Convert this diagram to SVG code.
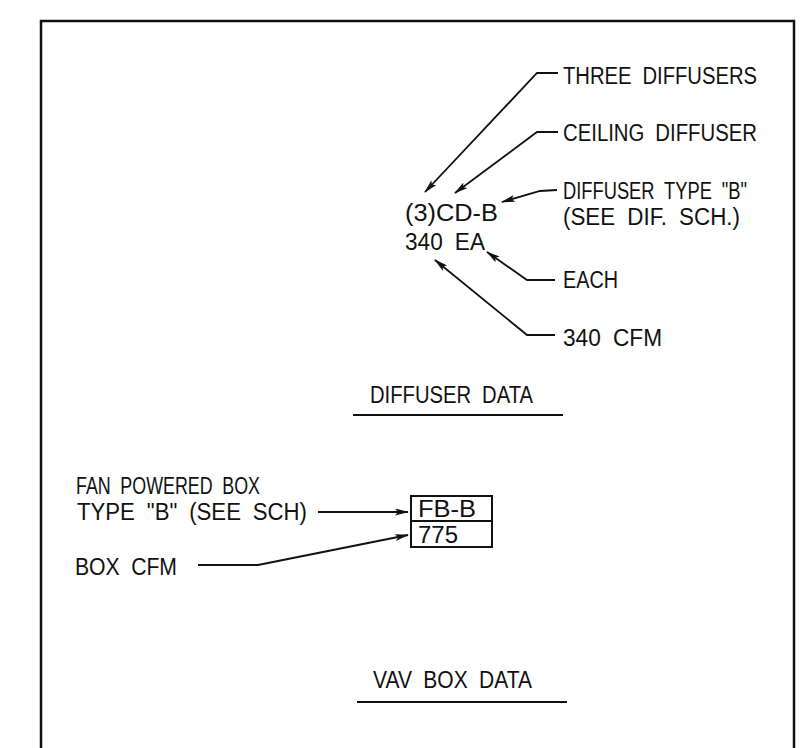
<svg xmlns="http://www.w3.org/2000/svg" width="802" height="748" viewBox="0 0 802 748">
<defs>
<marker id="ah" markerUnits="userSpaceOnUse" markerWidth="14" markerHeight="8" refX="13" refY="3.5" orient="auto">
<path d="M0,0 L14,3.5 L0,7 L3,3.5 z" fill="#111"/>
</marker>
<style>
text{font-family:"Liberation Sans","DejaVu Sans",sans-serif;font-size:23px;fill:#111;word-spacing:6px;}
.ld{fill:none;stroke:#111;stroke-width:1.8;marker-end:url(#ah);}
.ul{fill:none;stroke:#111;stroke-width:2.2;}
</style>
</defs>
<rect width="802" height="748" fill="#fff"/>
<g id="frame"><path d="M41,748 V21 H794 V748" fill="none" stroke="#111" stroke-width="2.5"/></g>

<g id="tag-diffuser">
<text x="405" y="221" textLength="93" lengthAdjust="spacingAndGlyphs">(3)CD-B</text>
<text x="405" y="250" textLength="80" lengthAdjust="spacingAndGlyphs">340 EA</text>
</g>
<g id="lbl-three"><text x="563" y="84" textLength="194" lengthAdjust="spacingAndGlyphs">THREE DIFFUSERS</text></g>
<g id="lbl-ceiling"><text x="563" y="141" textLength="194" lengthAdjust="spacingAndGlyphs">CEILING DIFFUSER</text></g>
<g id="lbl-type"><text x="563" y="199" textLength="184" lengthAdjust="spacingAndGlyphs">DIFFUSER TYPE "B"</text>
<text x="563" y="225" textLength="177" lengthAdjust="spacingAndGlyphs">(SEE DIF. SCH.)</text></g>
<g id="lbl-each"><text x="563" y="288" textLength="55" lengthAdjust="spacingAndGlyphs">EACH</text></g>
<g id="lbl-cfm"><text x="563" y="346" textLength="99" lengthAdjust="spacingAndGlyphs">340 CFM</text></g>
<g id="title-diffuser"><text x="370" y="403" textLength="163" lengthAdjust="spacingAndGlyphs">DIFFUSER DATA</text>
<line class="ul" x1="353" y1="415" x2="563" y2="415"/></g>

<g id="lbl-fpb"><text x="76" y="494" textLength="184" lengthAdjust="spacingAndGlyphs">FAN POWERED BOX</text>
<text x="77" y="520" textLength="230" lengthAdjust="spacingAndGlyphs">TYPE "B" (SEE SCH)</text></g>
<g id="lbl-boxcfm"><text x="75" y="575" textLength="102" lengthAdjust="spacingAndGlyphs">BOX CFM</text></g>
<g id="vav-box">
<rect x="411" y="496" width="81" height="51" fill="none" stroke="#111" stroke-width="2"/>
<line x1="411" y1="521" x2="492" y2="521" stroke="#111" stroke-width="1.8"/>
<text x="418" y="517" textLength="58" lengthAdjust="spacingAndGlyphs">FB-B</text>
<text x="418" y="543" textLength="40" lengthAdjust="spacingAndGlyphs">775</text>
</g>
<g id="title-vav"><text x="373" y="688" textLength="159" lengthAdjust="spacingAndGlyphs">VAV BOX DATA</text>
<line class="ul" x1="357" y1="702" x2="567" y2="702"/></g>

<g id="connectors">
<path class="ld" d="M558,73 H537 L425,192"/>
<path class="ld" d="M558,132 H537 L455,193"/>
<path class="ld" d="M557,190 L540,191 L502,202"/>
<path class="ld" d="M555,280 H527 L487,252"/>
<path class="ld" d="M555,335 H527 L435,260"/>
<path class="ld" d="M318,512 H408"/>
<path class="ld" d="M198,565 H258 L408,535"/>
</g>
</svg>
